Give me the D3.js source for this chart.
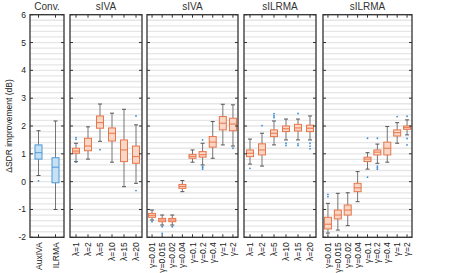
<!DOCTYPE html>
<html>
<head>
<meta charset="utf-8">
<script src="https://cdn.jsdelivr.net/npm/d3@7"></script>
<style>
  body { margin: 0; background: #fff; }
  svg { font-family: "Liberation Sans", Arial, sans-serif; }
</style>
</head>
<body>
<svg id="chart" width="471" height="273"></svg>
<script>
// box stats: [whiskerLow, q1, median, q3, whiskerHigh]
const convCats = ["AuxIVA", "ILRMA"];
const convStats = [[0.22, 0.81, 1.04, 1.32, 1.83], [-1.0, -0.04, 0.52, 0.86, 2.18]];
const convOut = [[0.03], []];

const sivaLamCats = ["λ=1", "λ=2", "λ=5", "λ=10", "λ=15", "λ=20"];
const sivaLamStats = [
  [0.72, 1.02, 1.1, 1.2, 1.38], [0.81, 1.11, 1.28, 1.56, 1.97], [1.45, 1.92, 2.12, 2.36, 2.79],
  [0.70, 1.46, 1.74, 1.93, 2.46], [-0.18, 0.72, 1.14, 1.5, 2.6], [-0.06, 0.66, 0.9, 1.28, 2.04]
];
const sivaLamOut = [[1.52, 1.58, 0.7], [], [1.15], [], [], [2.36, -0.32]];

const sivaGamCats = ["γ=0.01", "γ=0.015", "γ=0.02", "γ=0.04", "γ=0.1", "γ=0.2", "γ=0.4", "γ=1", "γ=2"];
const sivaGamStats = [
  [-1.38, -1.28, -1.21, -1.14, -1.02], [-1.56, -1.44, -1.38, -1.32, -1.2], [-1.56, -1.44, -1.38, -1.32, -1.2],
  [-0.36, -0.24, -0.17, -0.1, 0.04], [0.70, 0.84, 0.91, 0.98, 1.14], [0.6, 0.88, 0.97, 1.08, 1.38],
  [0.84, 1.24, 1.42, 1.62, 2.16], [1.32, 1.86, 2.1, 2.34, 2.78], [1.28, 1.83, 2.07, 2.28, 2.76]
];
const sivaGamOut = [[-1.44], [-1.62, -1.86], [-1.62], [], [], [1.5, 0.54, 0.5, 0.45], [], [], [1.2]];

const silrmaLamCats = ["λ=1", "λ=2", "λ=5", "λ=10", "λ=15", "λ=20"];
const silrmaLamStats = [
  [0.63, 0.9, 1.02, 1.14, 1.53], [0.56, 0.96, 1.14, 1.36, 1.74], [1.32, 1.62, 1.74, 1.86, 2.18],
  [1.5, 1.8, 1.9, 2.0, 2.25], [1.5, 1.82, 1.93, 2.06, 2.25], [1.5, 1.8, 1.92, 2.03, 2.36]
];
const silrmaLamOut = [[0.48], [2.01], [2.3, 2.36, 2.44], [1.38, 1.3], [2.45, 1.36, 1.3], [1.38, 1.28, 1.18]];

const silrmaGamCats = ["γ=0.01", "γ=0.015", "γ=0.02", "γ=0.04", "γ=0.1", "γ=0.2", "γ=0.4", "γ=1", "γ=2"];
const silrmaGamStats = [
  [-1.85, -1.7, -1.53, -1.28, -0.78], [-1.74, -1.34, -1.2, -1.02, -0.42], [-1.58, -1.2, -1.02, -0.84, -0.4],
  [-0.72, -0.36, -0.22, -0.06, 0.36], [0.45, 0.72, 0.81, 0.88, 1.04], [0.66, 0.96, 1.06, 1.14, 1.35],
  [0.7, 0.96, 1.2, 1.42, 1.98], [1.38, 1.64, 1.76, 1.86, 2.12], [1.68, 1.88, 1.94, 2.0, 2.22]
];
const silrmaGamOut = [[-0.46, -0.54], [], [], [], [0.16, 1.56], [0.56, 0.5, 0.45, 1.56], [], [2.34], [2.35, 1.55, 1.32]];

const yTicks = [-2, -1, 0, 1, 2, 3, 4, 5, 6];

// layout
const panels = [
  {title: "Conv.", cats: convCats, stats: convStats, out: convOut, x0: 30, x1: 64, blue: true},
  {title: "sIVA", cats: sivaLamCats, stats: sivaLamStats, out: sivaLamOut, x0: 70, x1: 142},
  {title: "sIVA", cats: sivaGamCats, stats: sivaGamStats, out: sivaGamOut, x0: 147, x1: 238},
  {title: "sILRMA", cats: silrmaLamCats, stats: silrmaLamStats, out: silrmaLamOut, x0: 244, x1: 316},
  {title: "sILRMA", cats: silrmaGamCats, stats: silrmaGamStats, out: silrmaGamOut, x0: 323, x1: 412}
];

const plotTop = 14.7, plotBottom = 237.3;
const svg = d3.select("#chart");
const y = d3.scaleLinear().domain([-2, 6]).range([plotBottom, plotTop]);
const gridVals = d3.range(-2, 6.001, 0.2).map(v => +v.toFixed(1));
const boxW = 7;

panels.forEach((p, pi) => {
  const x = d3.scalePoint().domain(p.cats).range([p.x0, p.x1]).padding(0.5);
  const g = svg.append("g");
  const stroke = p.blue ? "#4a98d6" : "#e8764b";
  const fill = p.blue ? "#c7e1f4" : "#f9d6c5";

  // grid
  g.selectAll("line.grid").data(gridVals).join("line")
    .attr("x1", p.x0).attr("x2", p.x1)
    .attr("y1", d => y(d)).attr("y2", d => y(d))
    .attr("stroke", "#e6e6e6").attr("stroke-width", 1.3);

  const items = p.cats.map((c, i) => ({c, s: p.stats[i], o: p.out[i]}));
  const b = g.selectAll("g.box").data(items).join("g");
  // whiskers
  b.append("line").attr("x1", d => x(d.c)).attr("x2", d => x(d.c))
    .attr("y1", d => y(d.s[0])).attr("y2", d => y(d.s[1]))
    .attr("stroke", "#666").attr("stroke-width", 0.9);
  b.append("line").attr("x1", d => x(d.c)).attr("x2", d => x(d.c))
    .attr("y1", d => y(d.s[3])).attr("y2", d => y(d.s[4]))
    .attr("stroke", "#666").attr("stroke-width", 0.9);
  [0, 4].forEach(k => {
    b.append("line").attr("x1", d => x(d.c) - 2).attr("x2", d => x(d.c) + 2)
      .attr("y1", d => y(d.s[k])).attr("y2", d => y(d.s[k]))
      .attr("stroke", "#555").attr("stroke-width", 1);
  });
  b.append("rect")
    .attr("x", d => x(d.c) - boxW / 2).attr("width", boxW)
    .attr("y", d => y(d.s[3])).attr("height", d => y(d.s[1]) - y(d.s[3]))
    .attr("fill", fill).attr("stroke", stroke).attr("stroke-width", 1);
  b.append("line").attr("x1", d => x(d.c) - boxW / 2).attr("x2", d => x(d.c) + boxW / 2)
    .attr("y1", d => y(d.s[2])).attr("y2", d => y(d.s[2]))
    .attr("stroke", stroke).attr("stroke-width", 1);
  b.each(function(d) {
    d3.select(this).selectAll("circle").data(d.o).join("circle")
      .attr("cx", x(d.c)).attr("cy", v => y(v)).attr("r", 0.9)
      .attr("fill", "#3d8fd6");
  });

  // frame ticks
  const tk = 3;
  p.cats.forEach(c => {
    g.append("line").attr("x1", x(c)).attr("x2", x(c)).attr("y1", plotTop).attr("y2", plotTop + tk)
      .attr("stroke", "#333");
    g.append("line").attr("x1", x(c)).attr("x2", x(c)).attr("y1", plotBottom).attr("y2", plotBottom - tk)
      .attr("stroke", "#333");
  });
  yTicks.forEach(t => {
    g.append("line").attr("x1", p.x0).attr("x2", p.x0 + tk).attr("y1", y(t)).attr("y2", y(t)).attr("stroke", "#333");
    g.append("line").attr("x1", p.x1).attr("x2", p.x1 - tk).attr("y1", y(t)).attr("y2", y(t)).attr("stroke", "#333");
  });
  g.append("rect").attr("x", p.x0).attr("y", plotTop).attr("width", p.x1 - p.x0).attr("height", plotBottom - plotTop)
    .attr("fill", "none").attr("stroke", "#333").attr("stroke-width", 1.3);

  // x labels
  g.selectAll("text.xl").data(p.cats).join("text")
    .attr("transform", d => `translate(${x(d) + 3},${plotBottom + 5}) rotate(-90)`)
    .attr("text-anchor", "end").attr("font-size", 8.5).attr("fill", "#222")
    .text(d => d);

  // title
  g.append("text").attr("x", (p.x0 + p.x1) / 2).attr("y", 10)
    .attr("text-anchor", "middle").attr("font-size", 10).attr("fill", "#333")
    .text(p.title);

  if (pi === 0) {
    g.selectAll("text.yl").data(yTicks).join("text")
      .attr("x", p.x0 - 4).attr("y", d => y(d) + 3)
      .attr("text-anchor", "end").attr("font-size", 8.5).attr("fill", "#222")
      .text(d => d);
  }
});

svg.append("text")
  .attr("transform", `translate(12,${(plotTop + plotBottom) / 2}) rotate(-90)`)
  .attr("text-anchor", "middle").attr("font-size", 8.5).attr("fill", "#222")
  .text("ΔSDR improvement (dB)");
</script>
</body>
</html>
